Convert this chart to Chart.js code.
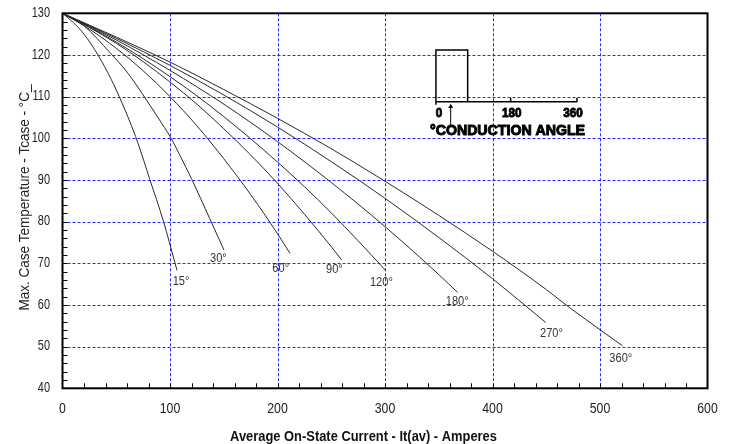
<!DOCTYPE html>
<html><head><meta charset="utf-8">
<script src="https://cdn.jsdelivr.net/npm/chart.js@4/dist/chart.umd.min.js"></script>
<style>html,body{margin:0;padding:0;background:#fff}#wrap{width:736px;height:444px}</style>
</head><body><div id="wrap"><canvas id="c" width="736" height="444"></canvas></div>
<script>
const FONT = "'Liberation Sans','Arial',sans-serif";

const xTicks = [0, 100, 200, 300, 400, 500, 600];
const yTicks = [40, 50, 60, 70, 80, 90, 100, 110, 120, 130];

const xTitle = 'Average On-State Current - It(av) - Amperes';
const yTitle = 'Max. Case Temperature - Tcase - °C_';

const curveNames = ['15°', '30°', '60°', '90°', '120°', '180°', '270°', '360°'];

const x15 = [0, 10, 20, 33, 45, 55, 62, 70, 81, 94, 104.5, 106.5];
const y15 = [130, 127.8, 125, 120, 114.3, 108.7, 104.4, 99, 90.3, 80, 70.2, 68.3];

const x30 = [0, 20, 44, 60, 75, 89, 101, 110, 120, 137, 150.2];
const y30 = [130, 127, 120.6, 115.9, 110.4, 104.9, 100, 95.5, 90.3, 80.7, 73.2];

const x60 = [0, 25, 50, 75, 100, 125, 150, 175, 200, 211.6];
const y60 = [130, 126.2, 121.6, 116.2, 110, 103, 95.1, 86.5, 77.1, 72.4];

const x90 = [0, 25, 50, 75, 100, 125, 150, 175, 200, 225, 250, 259.7];
const y90 = [130, 126.6, 122.8, 118.4, 113.5, 108.2, 102.3, 96, 89.2, 81.8, 74, 70.8];

const x120 = [0, 25, 50, 75, 100, 125, 150, 175, 200, 225, 250, 275, 300.9];
const y120 = [130, 126.7, 123.1, 119.1, 114.8, 110.2, 105.2, 99.9, 94.3, 88.4, 82.1, 75.4, 68.2];

const x180 = [0, 50, 100, 150, 200, 250, 300, 350, 367.6];
const y180 = [130, 123.6, 116.3, 108.2, 99.2, 89.4, 78.8, 67.3, 63.0];

const x270 = [0, 50, 100, 150, 200, 250, 300, 350, 400, 449.5];
const y270 = [130, 124, 117.5, 110.4, 102.7, 94.4, 85.6, 76.2, 66.3, 55.8];

const x360 = [0, 50, 100, 150, 200, 250, 300, 350, 400, 450, 472, 521];
const y360 = [130, 124.3, 118.3, 111.7, 104.8, 97.5, 89.7, 81.5, 72.9, 63.7, 59.3, 50.2];

// label anchor (left edge, vertical middle) in data units
const labelX = [102.5, 137.2, 195.2, 245.1, 286, 356.5, 444.2, 508.7];
const labelY = [65.6, 71.2, 68.8, 68.5, 65.4, 60.8, 53.2, 47.3];

const insetTicks = ['0', '180', '360'];
const insetTitle = '°CONDUCTION ANGLE';

const xs = [x15, x30, x60, x90, x120, x180, x270, x360];
const ys = [y15, y30, y60, y90, y120, y180, y270, y360];

const datasets = curveNames.map((n, i) => ({
  label: n,
  data: xs[i].map((x, j) => ({x: x, y: ys[i][j]})),
  showLine: true,
  borderColor: '#2a2a2a',
  borderWidth: 1,
  pointRadius: 0,
  cubicInterpolationMode: 'monotone',
  fill: false
}));

function txt(ctx, s, x, y, font, align, sx, rot) {
  ctx.save();
  ctx.translate(x, y);
  if (rot) ctx.rotate(rot);
  ctx.scale(sx, 1);
  ctx.font = font;
  ctx.textAlign = align;
  ctx.textBaseline = 'middle';
  ctx.fillText(s, 0, 0);
  ctx.restore();
}

const decor = {
  id: 'decor',
  beforeDatasetsDraw(chart) {
    const {ctx, chartArea: a, scales: {x, y}} = chart;
    ctx.save();
    ctx.strokeStyle = 'rgba(0,0,255,0.85)';
    ctx.lineWidth = 1;
    ctx.setLineDash([3, 2]);
    xTicks.slice(1, -1).forEach(v => {
      const px = Math.round(x.getPixelForValue(v)) + 0.5;
      ctx.beginPath(); ctx.moveTo(px, a.top); ctx.lineTo(px, a.bottom); ctx.stroke();
    });
    yTicks.slice(1, -1).forEach(v => {
      const py = Math.round(y.getPixelForValue(v)) + 0.5;
      ctx.beginPath(); ctx.moveTo(a.left, py); ctx.lineTo(a.right, py); ctx.stroke();
    });
    ctx.restore();
  },
  afterDatasetsDraw(chart) {
    const {ctx, chartArea: a, scales: {x, y}} = chart;
    const X = v => x.getPixelForValue(v), Y = v => y.getPixelForValue(v);
    ctx.save();
    // inward minor ticks
    ctx.strokeStyle = '#000';
    ctx.lineWidth = 1;
    for (let v = 20; v < 600; v += 20) {
      const px = Math.round(X(v)) + 0.5;
      ctx.beginPath(); ctx.moveTo(px, a.bottom); ctx.lineTo(px, a.bottom - 5); ctx.stroke();
    }
    for (let v = 42; v < 130; v += 2) {
      const py = Math.round(Y(v)) + 0.5;
      ctx.beginPath(); ctx.moveTo(a.left, py); ctx.lineTo(a.left + 5, py); ctx.stroke();
    }
    // frame
    ctx.lineWidth = 2;
    ctx.strokeRect(a.left, a.top, a.right - a.left, a.bottom - a.top);

    // tick labels
    ctx.fillStyle = '#222';
    xTicks.forEach(v => txt(ctx, String(v), X(v), a.bottom + 21, '15px ' + FONT, 'center', 0.82));
    yTicks.forEach(v => txt(ctx, String(v), a.left - 12.5, Y(v), '14px ' + FONT, 'right', 0.78));
    // axis titles
    ctx.fillStyle = '#111';
    txt(ctx, xTitle, X(280), a.bottom + 48.5, 'bold 15px ' + FONT, 'center', 0.86);
    ctx.fillStyle = '#222';
    txt(ctx, yTitle, 25, Y(85.8), '15px ' + FONT, 'center', 0.9, -Math.PI / 2);

    // curve labels
    ctx.fillStyle = '#333';
    curveNames.forEach((n, i) => {
      txt(ctx, n, X(labelX[i]), Y(labelY[i]), '13.5px ' + FONT, 'left', 0.82);
    });

    // inset (conduction angle sketch)
    ctx.strokeStyle = '#000';
    ctx.fillStyle = '#000';
    ctx.lineWidth = 1.5;
    const bl = X(347.4), br = X(376.9), bt = Y(121.2), base = Y(108.8);
    ctx.beginPath();
    ctx.moveTo(bl, base + 3); ctx.lineTo(bl, bt); ctx.lineTo(br, bt); ctx.lineTo(br, base);
    ctx.stroke();
    ctx.beginPath();
    ctx.moveTo(bl, base); ctx.lineTo(X(478.6), base);
    ctx.moveTo(X(416.9), base); ctx.lineTo(X(416.9), base - 4);
    ctx.moveTo(X(478.6), base); ctx.lineTo(X(478.6), base - 4);
    ctx.stroke();
    const ax = X(361.1);
    ctx.lineWidth = 1;
    ctx.beginPath(); ctx.moveTo(ax, Y(103)); ctx.lineTo(ax, Y(107.9)); ctx.stroke();
    ctx.beginPath(); ctx.moveTo(ax, Y(108.3)); ctx.lineTo(ax - 2.5, Y(107.3)); ctx.lineTo(ax + 2.5, Y(107.3)); ctx.closePath(); ctx.fill();
    const tx = [350.2, 417.9, 474.9];
    ctx.lineWidth = 0.9;
    insetTicks.forEach((t, i) => {
      ctx.save();
      ctx.translate(X(tx[i]), Y(106.0));
      ctx.scale(0.9, 1);
      ctx.font = 'bold 13px ' + FONT; ctx.textAlign = 'center'; ctx.textBaseline = 'middle';
      ctx.fillText(t, 0, 0); ctx.strokeText(t, 0, 0);
      ctx.restore();
    });
    ctx.save();
    ctx.translate(X(414), Y(101.8));
    ctx.font = 'bold 15px ' + FONT; ctx.textAlign = 'center'; ctx.textBaseline = 'middle';
    const w = ctx.measureText(insetTitle).width;
    ctx.scale(155 / w, 1);
    ctx.lineWidth = 1;
    ctx.fillText(insetTitle, 0, 0); ctx.strokeText(insetTitle, 0, 0);
    ctx.restore();
    ctx.restore();
  }
};

new Chart(document.getElementById('c'), {
  type: 'scatter',
  data: {datasets},
  options: {
    responsive: false,
    animation: false,
    devicePixelRatio: 1,
    layout: {padding: {top: 13.3, right: 28.5, left: 0, bottom: 0}},
    plugins: {legend: {display: false}, tooltip: {enabled: false}},
    scales: {
      x: {
        type: 'linear', min: 0, max: 600,
        afterBuildTicks: s => { s.ticks = xTicks.map(v => ({value: v})); },
        afterFit: s => { s.height = 55.7; },
        grid: {display: false, drawTicks: false},
        border: {display: false},
        ticks: {display: false}
      },
      y: {
        type: 'linear', min: 40, max: 130,
        afterBuildTicks: s => { s.ticks = yTicks.map(v => ({value: v})); },
        afterFit: s => { s.width = 62.5; },
        grid: {display: false, drawTicks: false},
        border: {display: false},
        ticks: {display: false}
      }
    }
  },
  plugins: [decor]
});
</script>
</body></html>
